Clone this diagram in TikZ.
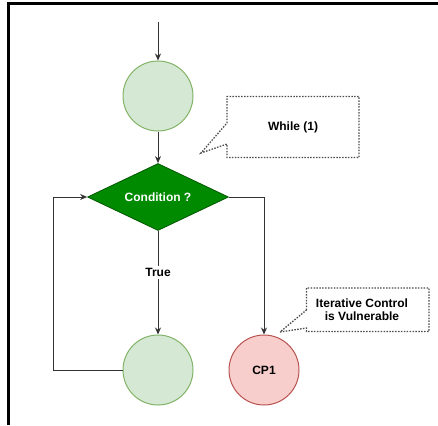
\documentclass[tikz,border=0pt]{standalone}
\usepackage{fontspec}
\setmainfont{Liberation Sans}
\usetikzlibrary{shapes.geometric,arrows.meta}
\definecolor{lgreen}{HTML}{D5E8D4}
\definecolor{lgreenb}{HTML}{82B366}
\definecolor{dgreen}{HTML}{008A00}
\definecolor{dgreenb}{HTML}{005700}
\definecolor{lpink}{HTML}{F8CECC}
\definecolor{lpinkb}{HTML}{B85450}
\definecolor{linec}{HTML}{333333}
\begin{document}
\begin{tikzpicture}[x=1pt,y=-1pt,
  every node/.style={font=\fontsize{12}{14}\selectfont\bfseries},
  gcircle/.style={circle,draw=lgreenb,fill=lgreen,line width=1pt,minimum size=70pt,inner sep=0pt},
  pcircle/.style={circle,draw=lpinkb,fill=lpink,line width=1pt,minimum size=70pt,inner sep=0pt},
  decision/.style={diamond,aspect=2.1,draw=dgreenb,fill=dgreen,text=white,line width=0.8pt,minimum width=141pt,minimum height=67pt,inner sep=0pt},
  conn/.style={draw=linec,line width=0.9pt,-{Stealth[length=7pt,width=6pt]}},
  plain/.style={draw=linec,line width=0.9pt},
  callout/.style={draw=black!70,line width=1.3pt,dash pattern=on 1.5pt off 1.4pt},
  lbl/.style={fill=white,inner sep=2pt}]
\useasboundingbox (0,0) rectangle (438,425);
\fill[white] (0,0) rectangle (438,425);
\draw[line width=2.4pt] (8.5,425) -- (8.5,3.5) -- (438,3.5);

\coordinate (start) at (158,22);
\node[gcircle] (c1) at (158,96) {};
\node[decision] (cond) at (158,197) {Condition ?};
\node[gcircle] (c3) at (158,370) {};
\node[pcircle] (cp1) at (264,370) {CP1};
\coordinate (lcorner) at (53,370);
\coordinate (rcorner) at (264,197);

\draw[conn] (start) -- (c1.north);
\draw[conn] (c1.south) -- (cond.north);
\draw[conn] (cond.south) -- node[lbl,pos=0.4] (truelbl) {True} (c3.north);
\draw[conn] (c3.west) -- (lcorner) |- (cond.west);
\draw[conn] (cond.east) -- (rcorner) -- (cp1.north);

% callout 1
\draw[callout] (227,123) -- (227,96.5) -- (359,96.5) -- (359,157.5) -- (227,157.5) -- (227,144) -- (201,153) -- cycle;
\node (while) at (293,127) {While (1)};

% callout 2
\draw[callout] (306.5,310) -- (306.5,288) -- (429,288) -- (429,331.5) -- (306.5,331.5) -- (306.5,328) -- (280,332) -- cycle;
\node[align=center,font=\fontsize{12}{13}\selectfont\bfseries] (iter) at (362,310) {Iterative Control\\is Vulnerable};
\end{tikzpicture}
\end{document}
